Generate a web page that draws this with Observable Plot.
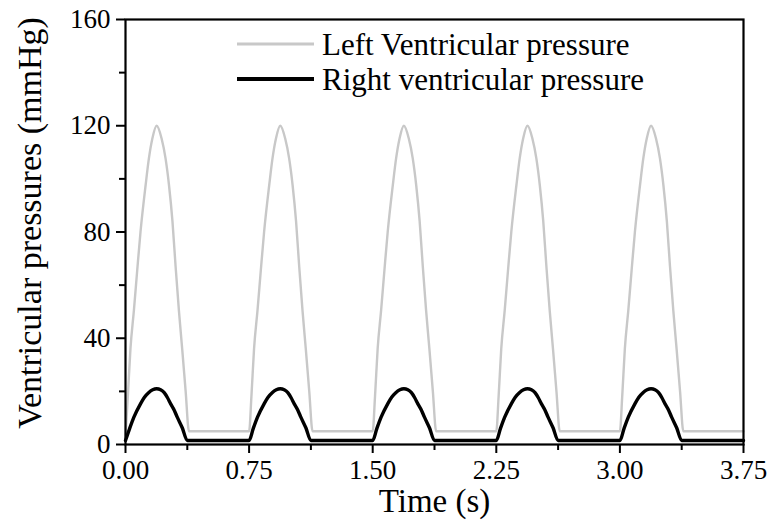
<!DOCTYPE html>
<html>
<head>
<meta charset="utf-8">
<script src="https://cdn.jsdelivr.net/npm/d3@7"></script>
<script src="https://cdn.jsdelivr.net/npm/@observablehq/plot@0.6"></script>
<style>
  html, body { margin: 0; padding: 0; background: #fff; }
  #chart svg { display: block; }
</style>
</head>
<body>
<div id="chart"></div>
<script>
// Left ventricular pressure (mmHg) vs time (s)
const lvTime = [
  0, 0.014, 0.03, 0.051, 0.071, 0.091, 0.122, 0.142, 0.163, 0.189, 0.219, 0.243, 0.264, 0.285, 0.304, 0.324, 0.344, 0.365, 0.385,
  0.75, 0.764, 0.78, 0.801, 0.821, 0.841, 0.872, 0.892, 0.913, 0.939, 0.969, 0.993, 1.014, 1.035, 1.054, 1.074, 1.094, 1.115, 1.135,
  1.5, 1.514, 1.53, 1.551, 1.571, 1.591, 1.622, 1.642, 1.663, 1.689, 1.719, 1.743, 1.764, 1.785, 1.804, 1.824, 1.844, 1.865, 1.885,
  2.25, 2.264, 2.28, 2.301, 2.321, 2.341, 2.372, 2.392, 2.413, 2.439, 2.469, 2.493, 2.514, 2.535, 2.554, 2.574, 2.594, 2.615, 2.635,
  3.0, 3.014, 3.03, 3.051, 3.071, 3.091, 3.122, 3.142, 3.163, 3.189, 3.219, 3.243, 3.264, 3.285, 3.304, 3.324, 3.344, 3.365, 3.385,
  3.75
];
const lvPressure = [
  3, 18, 36, 50.5, 65.5, 80, 97.6, 107.7, 115.2, 120, 115.2, 107.7, 97.6, 84, 67, 50.5, 36, 20, 5,
  5, 18, 36, 50.5, 65.5, 80, 97.6, 107.7, 115.2, 120, 115.2, 107.7, 97.6, 84, 67, 50.5, 36, 20, 5,
  5, 18, 36, 50.5, 65.5, 80, 97.6, 107.7, 115.2, 120, 115.2, 107.7, 97.6, 84, 67, 50.5, 36, 20, 5,
  5, 18, 36, 50.5, 65.5, 80, 97.6, 107.7, 115.2, 120, 115.2, 107.7, 97.6, 84, 67, 50.5, 36, 20, 5,
  5, 18, 36, 50.5, 65.5, 80, 97.6, 107.7, 115.2, 120, 115.2, 107.7, 97.6, 84, 67, 50.5, 36, 20, 5,
  5
];
// Right ventricular pressure (mmHg) vs time (s)
const rvTime = [
  0, 0.025, 0.051, 0.091, 0.115, 0.14, 0.165, 0.189, 0.213, 0.235, 0.255, 0.274, 0.295, 0.314, 0.345, 0.375,
  0.75, 0.775, 0.801, 0.841, 0.865, 0.89, 0.915, 0.939, 0.963, 0.985, 1.005, 1.024, 1.045, 1.064, 1.095, 1.125,
  1.5, 1.525, 1.551, 1.591, 1.615, 1.64, 1.665, 1.689, 1.713, 1.735, 1.755, 1.774, 1.795, 1.814, 1.845, 1.875,
  2.25, 2.275, 2.301, 2.341, 2.365, 2.39, 2.415, 2.439, 2.463, 2.485, 2.505, 2.524, 2.545, 2.564, 2.595, 2.625,
  3.0, 3.025, 3.051, 3.091, 3.115, 3.14, 3.165, 3.189, 3.213, 3.235, 3.255, 3.274, 3.295, 3.314, 3.345, 3.375,
  3.75
];
const rvPressure = [
  1.5, 6, 10.3, 15.3, 17.8, 19.5, 20.6, 21, 20.6, 19.5, 17.6, 15.3, 13, 10.3, 6.2, 1.5,
  1.5, 6, 10.3, 15.3, 17.8, 19.5, 20.6, 21, 20.6, 19.5, 17.6, 15.3, 13, 10.3, 6.2, 1.5,
  1.5, 6, 10.3, 15.3, 17.8, 19.5, 20.6, 21, 20.6, 19.5, 17.6, 15.3, 13, 10.3, 6.2, 1.5,
  1.5, 6, 10.3, 15.3, 17.8, 19.5, 20.6, 21, 20.6, 19.5, 17.6, 15.3, 13, 10.3, 6.2, 1.5,
  1.5, 6, 10.3, 15.3, 17.8, 19.5, 20.6, 21, 20.6, 19.5, 17.6, 15.3, 13, 10.3, 6.2, 1.5,
  1.5
];
const xMajorTicks = [0, 0.75, 1.5, 2.25, 3.0, 3.75];
const xMinorTicks = [0.375, 1.125, 1.875, 2.625, 3.375];
const yMajorTicks = [0, 40, 80, 120, 160];
const yMinorTicks = [20, 60, 100, 140];
const seriesNames = ["Left Ventricular pressure", "Right ventricular pressure"];
const seriesColors = ["#c8c8c8", "#000000"];
const seriesWidths = [2.4, 3.4];

const lv = lvTime.map((t, i) => ({t, p: lvPressure[i]}));
const rv = rvTime.map((t, i) => ({t, p: rvPressure[i]}));

const font = "'Liberation Serif', 'Times New Roman', serif";

const plot = Plot.plot({
  width: 770,
  height: 524,
  marginLeft: 125,
  marginRight: 27,
  marginTop: 19,
  marginBottom: 80,
  style: {fontFamily: font, color: "#000", background: "#fff"},
  x: {domain: [0, 3.75]},
  y: {domain: [0, 160]},
  marks: [
    Plot.line(lv, {x: "t", y: "p", stroke: seriesColors[0], strokeWidth: seriesWidths[0], curve: "monotone-x"}),
    Plot.line(rv, {x: "t", y: "p", stroke: seriesColors[1], strokeWidth: seriesWidths[1], curve: "monotone-x"}),
    Plot.frame({stroke: "#000", strokeWidth: 2.2}),
    Plot.axisX({ticks: xMajorTicks, tickFormat: d => d.toFixed(2), tickSize: 9, tickPadding: 6, strokeWidth: 2, fontSize: 27, label: null}),
    Plot.axisX({ticks: xMinorTicks, tickFormat: () => "", tickSize: 6, strokeWidth: 2, label: null}),
    Plot.axisY({ticks: yMajorTicks, tickFormat: d => String(d), tickSize: 9, tickPadding: 6, strokeWidth: 2, fontSize: 27, label: null}),
    Plot.axisY({ticks: yMinorTicks, tickFormat: () => "", tickSize: 6, strokeWidth: 2, label: null}),
    Plot.text(["Time (s)"], {frameAnchor: "bottom", dy: 67, fontSize: 33, fill: "#000"}),
    Plot.text(["Ventricular pressures (mmHg)"], {frameAnchor: "left", dx: -95, dy: -9, rotate: -90, textAnchor: "middle", fontSize: 34, fill: "#000"})
  ]
});

document.getElementById("chart").appendChild(plot);

// Legend (drawn inside the plot area, top-right)
const svg = d3.select(plot);
const lg = svg.append("g").attr("font-family", font).attr("font-size", 31).attr("text-anchor", "start");
seriesNames.forEach((name, i) => {
  const y = 44 + i * 35;
  lg.append("line").attr("x1", 237).attr("x2", 314).attr("y1", y).attr("y2", y)
    .attr("stroke", seriesColors[i]).attr("stroke-width", seriesWidths[i] + 0.4);
  lg.append("text").attr("x", 322).attr("y", y).attr("dy", "0.34em").attr("fill", "#000").text(name);
});
</script>
</body>
</html>
